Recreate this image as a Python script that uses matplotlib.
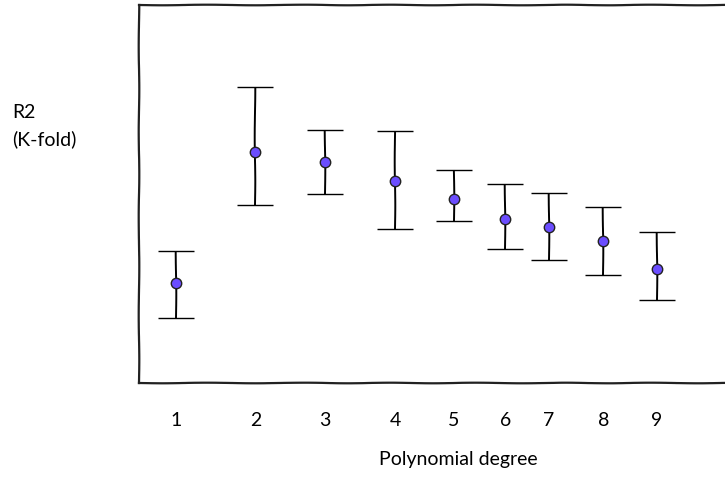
import numpy as np
import matplotlib.pyplot as plt

# 多项式阶数与 K 折 R2（数值按图片像素估读，纵轴无刻度，单位任意）
degrees = ['1', '2', '3', '4', '5', '6', '7', '8', '9']
x_pos = [1.0, 2.10, 3.07, 4.04, 4.85, 5.57, 6.17, 6.93, 7.67]
r2_mean = [0.265, 0.611, 0.585, 0.534, 0.487, 0.434, 0.413, 0.376, 0.302]
r2_upper = [0.349, 0.783, 0.669, 0.667, 0.563, 0.526, 0.503, 0.466, 0.399]
r2_lower = [0.172, 0.471, 0.500, 0.407, 0.429, 0.354, 0.325, 0.286, 0.220]


def main():
    mean = np.array(r2_mean)
    yerr = [mean - np.array(r2_lower), np.array(r2_upper) - mean]

    with plt.xkcd(scale=0.3, length=100, randomness=2):
        plt.rcParams['font.family'] = ['Lato', 'DejaVu Sans']
        plt.rcParams['path.effects'] = []

        fig = plt.figure(figsize=(7.25, 4.78), dpi=100)
        # 右侧边框超出画布
        ax = fig.add_axes([139 / 725, 95 / 478, 610 / 725, 378 / 478])

        ax.errorbar(x_pos, mean, yerr=yerr, fmt='o', color='black',
                    ecolor='black', elinewidth=1.4, capsize=13, capthick=1.4,
                    markersize=7.5, markerfacecolor='#6b4dff',
                    markeredgecolor='#222222', markeredgewidth=1.0)

        ax.set_xlim(0.486, 8.95)
        ax.set_ylim(0, 1)
        ax.set_xticks(x_pos)
        ax.set_xticklabels(degrees, fontsize=14)
        ax.set_yticks([])
        ax.tick_params(axis='x', length=0, pad=21)

        for side in ['left', 'top', 'bottom', 'right']:
            ax.spines[side].set_linewidth(1.6)
            ax.spines[side].set_color('#222222')

        ax.set_xlabel('Polynomial degree', fontsize=14)
        ax.xaxis.set_label_coords((458 - 139) / 610, -0.18)

        fig.text(12 / 725, 1 - 126 / 478, 'R2\n(K-fold)', fontsize=14,
                 va='center', ha='left', linespacing=1.6)

        fig.savefig('out.png', dpi=100)


if __name__ == "__main__":
    main()
